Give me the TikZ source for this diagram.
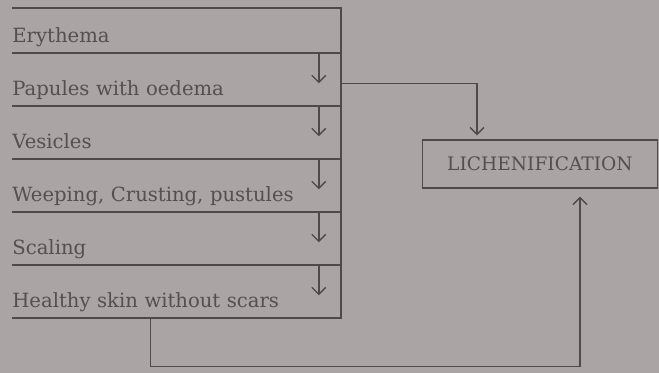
\documentclass[tikz,border=0pt]{standalone}
\usepackage{fontspec}
\setmainfont{DejaVu Serif}
\usetikzlibrary{arrows.meta,positioning}
\definecolor{paper}{RGB}{170,165,164}
\definecolor{ink}{RGB}{78,73,74}
\definecolor{print}{RGB}{84,79,80}
\tikzset{
  stage/.style={
    rectangle, inner sep=0pt, text width=164pt, align=left,
    text height=21.1pt, text depth=5pt, text=print,
    font=\fontsize{9.8}{11}\selectfont
  },
  lichbox/.style={
    rectangle, draw=ink, line width=0.7pt, minimum width=117.5pt,
    minimum height=24pt, text=print, font=\fontsize{9.3}{11}\selectfont
  },
  rule/.style={draw=ink, line width=0.9pt},
  flow/.style={-{Straight Barb[length=3.5pt,width=7pt]}, draw=ink, line width=0.7pt}
}
\begin{document}
\begin{tikzpicture}[x=0.5pt, y=-0.5pt, node distance=0pt]
\fill[paper] (0,0) rectangle (659,373);
\node[stage, anchor=north west, text height=17pt] (ery) at (12,8) {Erythema};
\node[stage, below=of ery] (pap) {Papules with oedema};
\node[stage, below=of pap] (ves) {Vesicles};
\node[stage, below=of ves] (weep) {Weeping, Crusting, pustules};
\node[stage, below=of weep] (scal) {Scaling};
\node[stage, below=of scal] (heal) {Healthy skin without scars};
\node[lichbox] (lich) at (540,164) {LICHENIFICATION};
% frame round the stages
\draw[rule] (ery.north west) -- (ery.north east) -- (heal.south east) -- (heal.south west);
\foreach \s in {ery,pap,ves,weep,scal}
  \draw[rule] (\s.south west) -- (\s.south east);
% one stage to the next
\foreach \a/\b in {ery/pap,pap/ves,ves/weep,weep/scal,scal/heal}
  \draw[flow] ([xshift=-11pt]\a.south east) -- ([xshift=-11pt,yshift=-2pt]\b.east);
\draw[flow, shorten >=2pt] ([yshift=-2pt]pap.east) -| ([xshift=-31.5pt]lich.north);
\draw[flow, shorten >=4pt] ([xshift=-13pt]heal.south) -- ++(0,49) -| ([xshift=20pt]lich.south);
\end{tikzpicture}
\end{document}
